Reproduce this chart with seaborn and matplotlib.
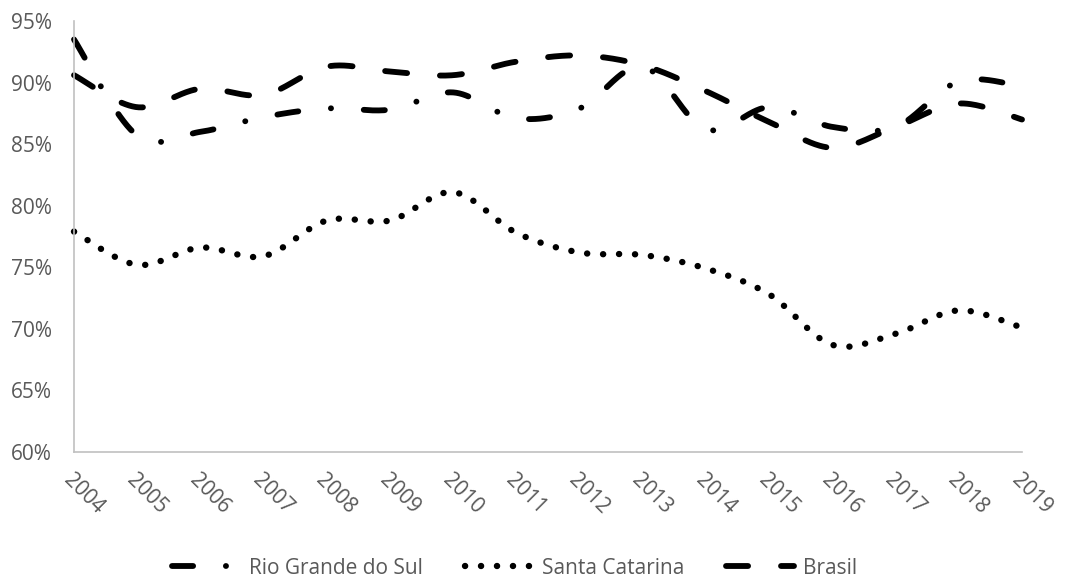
import numpy as np
import pandas as pd
import matplotlib
matplotlib.use("Agg")
import matplotlib.pyplot as plt
from matplotlib.ticker import PercentFormatter
import seaborn as sns

# Série anual (%)
anos = [2004, 2005, 2006, 2007, 2008, 2009, 2010, 2011,
        2012, 2013, 2014, 2015, 2016, 2017, 2018, 2019]
rio_grande_do_sul = [93.5, 85.7, 86.0, 87.2, 87.9, 87.8, 89.2, 87.1,
                     87.9, 91.3, 86.2, 88.0, 86.4, 86.4, 90.1, 89.7]
santa_catarina = [77.9, 75.2, 76.6, 75.9, 78.8, 78.8, 81.1, 77.8,
                  76.2, 76.0, 74.9, 72.8, 68.7, 69.6, 71.5, 70.1]
brasil = [90.6, 88.0, 89.5, 89.0, 91.3, 90.9, 90.6, 91.7,
          92.2, 91.4, 89.3, 86.8, 84.7, 86.4, 88.3, 87.0]
serie_nomes = ["Rio Grande do Sul", "Santa Catarina", "Brasil"]
y_ticks = [60, 65, 70, 75, 80, 85, 90, 95]

GREY = "#595959"
AXIS_GREY = "#C0C0C0"


def suavizar(xs, ys, n=40):
    """Curva suave (Bezier cúbica tipo Catmull-Rom) passando pelos pontos."""
    P = np.column_stack([xs, ys]).astype(float)
    Pext = np.vstack([P[0], P, P[-1]])
    partes = []
    t = np.linspace(0, 1, n, endpoint=False)[:, None]
    for i in range(len(P) - 1):
        p0, p1, p2, p3 = Pext[i], Pext[i + 1], Pext[i + 2], Pext[i + 3]
        c1 = p1 + (p2 - p0) / 6.0
        c2 = p2 - (p3 - p1) / 6.0
        seg = ((1 - t) ** 3) * p1 + 3 * ((1 - t) ** 2) * t * c1 \
            + 3 * (1 - t) * (t ** 2) * c2 + (t ** 3) * p2
        partes.append(seg)
    partes.append(P[-1:])
    return np.vstack(partes)


sns.set_theme(style="white")
plt.rcParams["font.family"] = ["Open Sans", "DejaVu Sans"]
plt.rcParams["lines.scale_dashes"] = False

fig = plt.figure(figsize=(10.65, 5.83), dpi=100)
ax = fig.add_axes([74 / 1065, 1 - 452 / 583, (1022 - 74) / 1065, (452 - 21) / 583])

estilos = {
    "Rio Grande do Sul": (0, (15.2, 23.6, 0.1, 23.6)),
    "Santa Catarina": (0, (0.1, 11.4)),
    "Brasil": (0, (15.9, 23.7)),
}
espessuras = {"Rio Grande do Sul": 4.2, "Santa Catarina": 4.6, "Brasil": 4.2}
valores = {
    "Rio Grande do Sul": rio_grande_do_sul,
    "Santa Catarina": santa_catarina,
    "Brasil": brasil,
}

for nome in serie_nomes:
    pts = suavizar(anos, valores[nome])
    df = pd.DataFrame({"ano": pts[:, 0], "valor": pts[:, 1]})
    sns.lineplot(data=df, x="ano", y="valor", ax=ax, sort=False, estimator=None,
                 color="black", linewidth=espessuras[nome], linestyle=estilos[nome],
                 dash_capstyle="round", solid_capstyle="round",
                 label=nome, clip_on=False)

ax.set_xlim(anos[0], anos[-1])
ax.set_ylim(60, 95)
ax.set_yticks(y_ticks)
ax.yaxis.set_major_formatter(PercentFormatter(xmax=100, decimals=0))
ax.set_xticks(anos)
ax.set_xticklabels([str(a) for a in anos], rotation=-45, ha="left", va="top",
                   rotation_mode="anchor")
ax.set_xlabel("")
ax.set_ylabel("")
ax.tick_params(axis="both", length=0, labelsize=15, labelcolor=GREY)
ax.tick_params(axis="y", pad=16)
ax.tick_params(axis="x", pad=13)
ax.grid(False)
for s in ["top", "right"]:
    ax.spines[s].set_visible(False)
for s in ["left", "bottom"]:
    ax.spines[s].set_color(AXIS_GREY)
    ax.spines[s].set_linewidth(1.2)

handles, labels = ax.get_legend_handles_labels()
leg = ax.legend(handles, labels, loc="center", bbox_to_anchor=(0.483, 1 - 568 / 583),
                bbox_transform=fig.transFigure, ncol=3, frameon=False,
                fontsize=15, labelcolor=GREY, handlelength=3.3, handletextpad=0.4,
                columnspacing=2.0)

fig.savefig("out.png", dpi=100, facecolor="white")
